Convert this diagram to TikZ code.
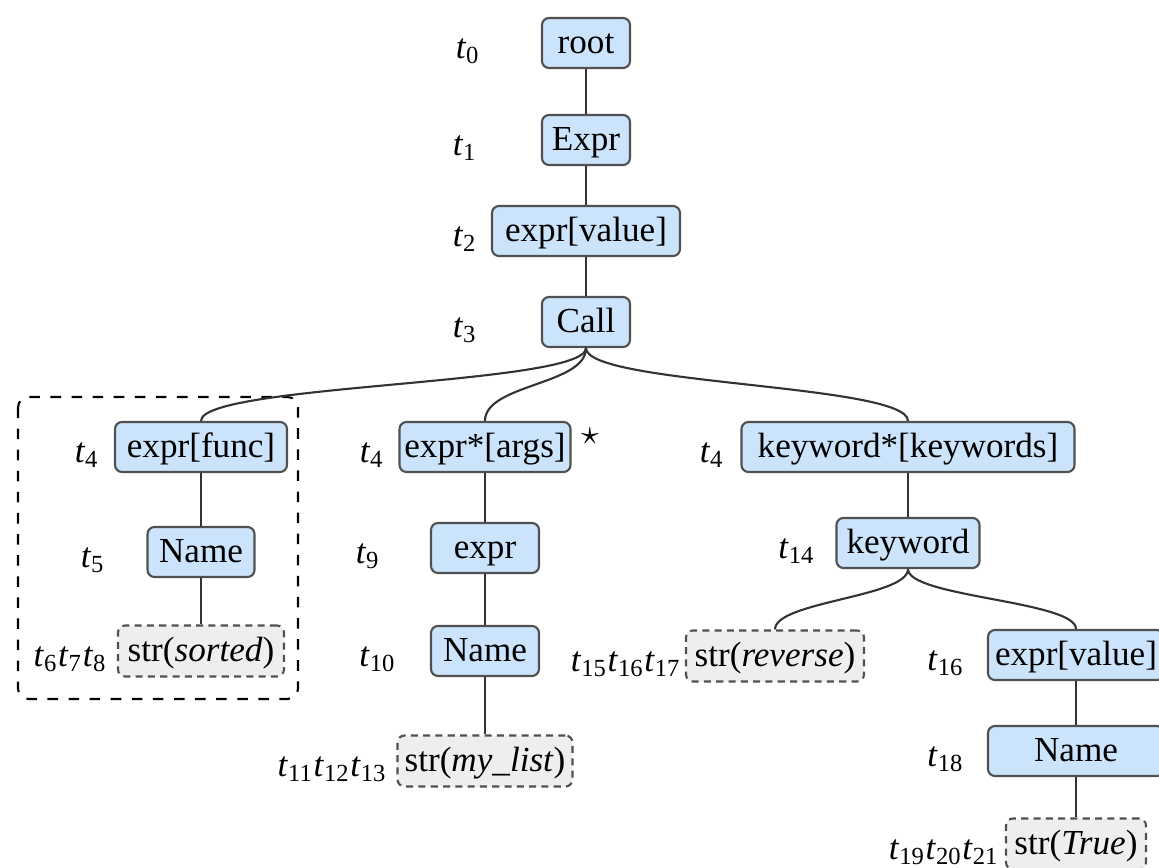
\documentclass[tikz,border=0pt]{standalone}
\usepackage{fontspec}
\setmainfont{Liberation Serif}
\definecolor{astblue}{RGB}{204,228,251}
\definecolor{astline}{RGB}{80,80,80}
\definecolor{leafgray}{RGB}{238,238,238}
\newcommand{\tokid}[1]{\textit{t}\textsubscript{#1}}
\begin{document}
\begin{tikzpicture}[
            ast/.style = {draw=astline, fill=astblue, rounded corners=2pt, line width=0.6pt, inner xsep=1pt, inner ysep=0pt, minimum height=0.5cm, text height=8pt, text depth=2pt},
            leaf/.style = {ast, fill=leafgray, dash pattern=on 2pt off 1.5pt, minimum height=0.51cm},
            tok/.style = {anchor=base east, inner sep=0pt},
            bendy/.style = {out=-90, in=90, distance=#1},
            conn/.style = {line width=0.6pt, black!80}]
            \clip (0,0) rectangle (11.59,-8.68);
            \node[ast, minimum width=0.88cm] (root) at (5.86,-0.43) {root};
            \node[ast, minimum width=0.88cm] (Expr) at (5.86,-1.40) {Expr};
            \node[ast, minimum width=1.88cm] (exprvalue) at (5.86,-2.31) {expr[value]};
            \node[ast, minimum width=0.88cm] (Call) at (5.86,-3.22) {Call};
            \node[ast, minimum width=1.72cm] (exprfunc) at (2.01,-4.47) {expr[func]};
            \node[ast, minimum width=1.71cm] (exprargs) at (4.85,-4.47) {expr*[args]};
            \node[ast, minimum width=3.33cm] (keywords) at (9.08,-4.47) {keyword*[keywords]};
            \node[ast, minimum width=1.07cm] (funcname) at (2.01,-5.52) {Name};
            \node[ast, minimum width=1.08cm] (argexpr) at (4.85,-5.48) {expr};
            \node[ast, minimum width=1.43cm] (keyword) at (9.08,-5.43) {keyword};
            \node[leaf, minimum width=1.66cm] (sorted) at (2.01,-6.51) {str(\textit{sorted})};
            \node[ast, minimum width=1.08cm] (argname) at (4.85,-6.51) {Name};
            \node[leaf, minimum width=1.78cm] (reverse) at (7.75,-6.56) {str(\textit{reverse})};
            \node[ast, minimum width=1.76cm] (kwvalue) at (10.76,-6.55) {expr[value]};
            \node[leaf, minimum width=1.75cm] (mylist) at (4.85,-7.61) {str(\textit{my\_list})};
            \node[ast, minimum width=1.76cm] (kwname) at (10.76,-7.51) {Name};
            \node[leaf, minimum width=1.40cm] (true) at (10.76,-8.44) {str(\textit{True})};
            \node[tok] (t0) at (4.81,-0.58) {\tokid{0}};
            \node[tok] (t1) at (4.78,-1.55) {\tokid{1}};
            \node[tok] (t2) at (4.78,-2.46) {\tokid{2}};
            \node[tok] (t3) at (4.78,-3.37) {\tokid{3}};
            \node[tok] (t4func) at (1.00,-4.62) {\tokid{4}};
            \node[tok] (t5) at (1.06,-5.67) {\tokid{5}};
            \node[tok] (t678) at (1.08,-6.66) {\tokid{6}\tokid{7}\tokid{8}};
            \node[tok] (t4args) at (3.85,-4.62) {\tokid{4}};
            \node[tok] (t9) at (3.81,-5.63) {\tokid{9}};
            \node[tok] (t10) at (3.97,-6.66) {\tokid{10}};
            \node[tok] (t111213) at (3.88,-7.76) {\tokid{11}\tokid{12}\tokid{13}};
            \node[tok] (t4kw) at (7.25,-4.62) {\tokid{4}};
            \node[tok] (t14) at (8.16,-5.58) {\tokid{14}};
            \node[tok] (t151617) at (6.82,-6.71) {\tokid{15}\tokid{16}\tokid{17}};
            \node[tok] (t16) at (9.65,-6.70) {\tokid{16}};
            \node[tok] (t18) at (9.65,-7.66) {\tokid{18}};
            \node[tok] (t192021) at (10.00,-8.59) {\tokid{19}\tokid{20}\tokid{21}};
            \node (star) at (5.90,-4.36) {$\star$};
            \draw[dashed, rounded corners=3pt, line width=0.6pt] (0.18,-3.97) rectangle (2.98,-6.99);
            \draw[conn] (root) -- (Expr);
            \draw[conn] (Expr) -- (exprvalue);
            \draw[conn] (exprvalue) -- (Call);
            \draw[conn] (Call.south) to[bendy=0.37cm] (exprfunc.north);
            \draw[conn] (Call.south) to[bendy=0.37cm] (exprargs.north);
            \draw[conn] (Call.south) to[bendy=0.37cm] (keywords.north);
            \draw[conn] (exprfunc) -- (funcname);
            \draw[conn] (funcname) -- (sorted);
            \draw[conn] (exprargs) -- (argexpr);
            \draw[conn] (argexpr) -- (argname);
            \draw[conn] (argname) -- (mylist);
            \draw[conn] (keywords) -- (keyword);
            \draw[conn] (keyword.south) to[bendy=0.28cm] (reverse.north);
            \draw[conn] (keyword.south) to[bendy=0.28cm] (kwvalue.north);
            \draw[conn] (kwvalue) -- (kwname);
            \draw[conn] (kwname) -- (true);
        \end{tikzpicture}
\end{document}
